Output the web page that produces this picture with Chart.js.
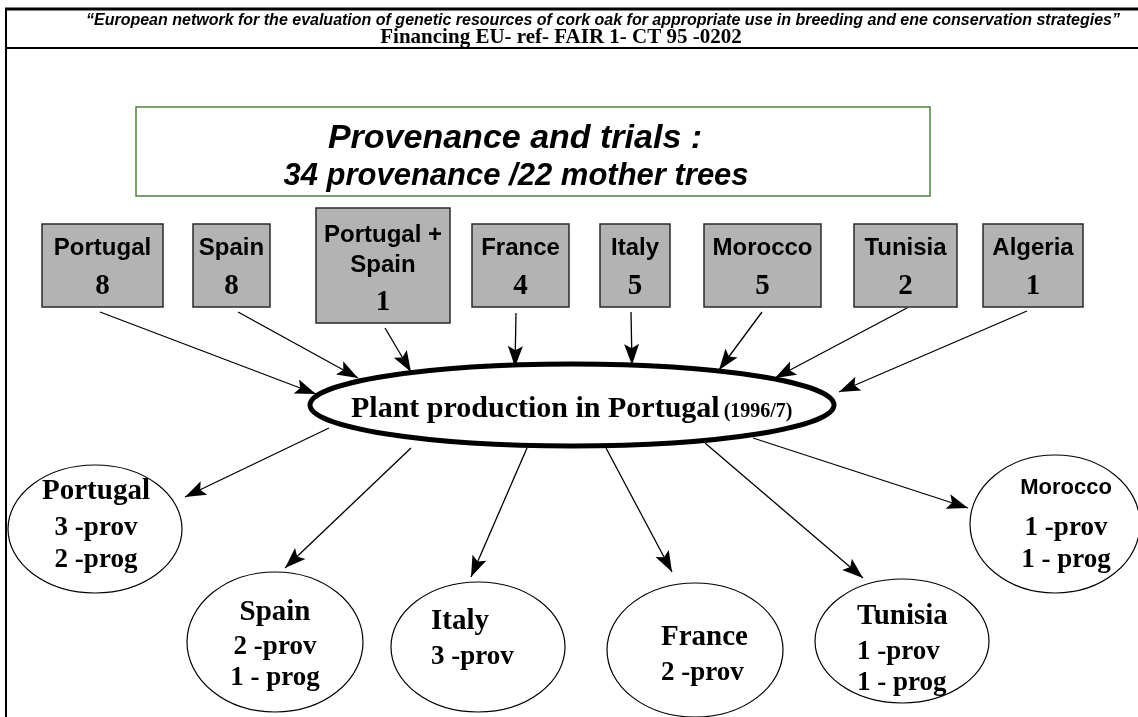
<!DOCTYPE html>
<html>
<head>
<meta charset="utf-8">
<script src="https://cdn.jsdelivr.net/npm/chart.js@4.4.1/dist/chart.umd.min.js"></script>
<style>
  body { margin: 0; background: #fff; }
  #wrap { width: 1138px; height: 717px; }
</style>
</head>
<body>
<div id="wrap"><canvas id="myChart" width="1138" height="717"></canvas></div>
<script>
// ---- data ----
const headerTitle = '\u201cEuropean network for the evaluation of genetic resources of cork oak for appropriate use in breeding and ene conservation strategies\u201d';
const headerSub = 'Financing EU- ref- FAIR 1- CT 95 -0202';
const trialTitle = 'Provenance and trials :';
const trialSub = '34 provenance /22 mother trees';

const sourceNames = [['Portugal'], ['Spain'], ['Portugal +', 'Spain'], ['France'], ['Italy'], ['Morocco'], ['Tunisia'], ['Algeria']];
const sourceCounts = [8, 8, 1, 4, 5, 5, 2, 1];

const hubLabel = 'Plant production in Portugal';
const hubYears = '(1996/7)';

const siteNames = ['Portugal', 'Spain', 'Italy', 'France', 'Tunisia', 'Morocco'];
const siteProv = [3, 2, 3, 2, 1, 1];
const siteProg = [2, 1, null, null, 1, 1];

// ---- layout (chart units = pixels of the 1138x717 frame) ----
const boxRects = [[42,224,163,307],[193,224,270,307],[316,208,450,323],[472,224,569,307],
                  [600,224,670,307],[704,224,821,307],[854,224,957,307],[983,224,1083,307]];
const boxTextY = [[248,287],[248,287],[235,265,303],[248,287],[248,287],[248,287],[248,287],[248,287]];
const inArrows = [[100,312,316,394],[238,312,358,378],[385,328,411,372],[516,313,515,367],
                  [631,312,632,365],[762,312,719,370],[907,308,775,378],[1027,311,839,392]];
const hub = [572, 405, 262, 41];
const siteEllipses = [[95,529,87,64],[275,642,88,70],[478,647,87,65],[695,650,88,67],[902,641,87,62],[1055,524,85,69]];
const siteTextX = [96, 275, 431, 661, 857, 1066];
const siteAlign = ['center','center','left','left','left','center'];
const siteTextY = [[492,528,560],[613,647,678],[622,657],[638,673],[617,652,683],[488,528,560]];
const outArrows = [[329,428,185,497],[411,448,285,568],[527,448,471,577],[606,448,672,572],[705,443,863,578],[753,438,968,508]];

const SANS = '"Liberation Sans", Arial, sans-serif';
const SERIF = '"Liberation Serif", "Times New Roman", serif';

const arrowSets = inArrows.concat(outArrows).map(a => ({
    data: [{x: a[0], y: a[1]}, {x: a[2], y: a[3]}],
    showLine: true,
    borderColor: '#000',
    borderWidth: 1.3,
    pointRadius: 0
}));

function arrowHead(ctx, x1, y1, x2, y2) {
    const ang = Math.atan2(y2 - y1, x2 - x1);
    const len = 21, half = 7.5;
    ctx.beginPath();
    ctx.moveTo(x2, y2);
    ctx.lineTo(x2 - len * Math.cos(ang) + half * Math.sin(ang), y2 - len * Math.sin(ang) - half * Math.cos(ang));
    ctx.lineTo(x2 - len * Math.cos(ang) * 0.8, y2 - len * Math.sin(ang) * 0.8);
    ctx.lineTo(x2 - len * Math.cos(ang) - half * Math.sin(ang), y2 - len * Math.sin(ang) + half * Math.cos(ang));
    ctx.closePath();
    ctx.fill();
}

const diagram = {
    id: 'diagram',
    beforeDatasetsDraw(chart) {
        const ctx = chart.ctx, sx = chart.scales.x, sy = chart.scales.y;
        const px = v => sx.getPixelForValue(v), py = v => sy.getPixelForValue(v);
        ctx.save();
        ctx.fillStyle = '#fff';
        ctx.fillRect(0, 0, chart.width, chart.height);

        // header frame
        ctx.strokeStyle = '#000';
        ctx.lineWidth = 3;
        ctx.beginPath(); ctx.moveTo(px(5), py(9)); ctx.lineTo(px(1138), py(9)); ctx.stroke();
        ctx.lineWidth = 2;
        ctx.beginPath(); ctx.moveTo(px(6), py(8)); ctx.lineTo(px(6), py(717)); ctx.stroke();
        ctx.beginPath(); ctx.moveTo(px(6), py(48)); ctx.lineTo(px(1138), py(48)); ctx.stroke();

        ctx.fillStyle = '#000';
        ctx.textAlign = 'center';
        ctx.textBaseline = 'middle';
        ctx.font = 'italic bold 16px ' + SANS;
        ctx.fillText(headerTitle, px(603), py(21));
        ctx.font = 'bold 21px ' + SERIF;
        ctx.fillText(headerSub, px(561), py(38));

        // trials box
        ctx.strokeStyle = '#4f7f3f';
        ctx.lineWidth = 1.5;
        ctx.strokeRect(px(136), py(107), px(930) - px(136), py(196) - py(107));
        ctx.fillStyle = '#000';
        ctx.font = 'italic bold 34px ' + SANS;
        ctx.fillText(trialTitle, px(515), py(139));
        ctx.font = 'italic bold 31px ' + SANS;
        ctx.fillText(trialSub, px(516), py(176));

        // source boxes
        boxRects.forEach((r, i) => {
            ctx.fillStyle = '#b3b3b3';
            ctx.fillRect(px(r[0]), py(r[1]), px(r[2]) - px(r[0]), py(r[3]) - py(r[1]));
            ctx.strokeStyle = '#2a2a2a';
            ctx.lineWidth = 1.5;
            ctx.strokeRect(px(r[0]), py(r[1]), px(r[2]) - px(r[0]), py(r[3]) - py(r[1]));
            const cx = px((r[0] + r[2]) / 2);
            ctx.fillStyle = '#000';
            ctx.font = 'bold 24px ' + SANS;
            sourceNames[i].forEach((t, j) => ctx.fillText(t, cx, py(boxTextY[i][j])));
            ctx.font = 'bold 29px ' + SERIF;
            ctx.fillText(String(sourceCounts[i]), cx, py(boxTextY[i][sourceNames[i].length]));
        });

        // site ellipses
        siteEllipses.forEach(e => {
            ctx.beginPath();
            ctx.ellipse(px(e[0]), py(e[1]), px(e[0] + e[2]) - px(e[0]), py(e[1] + e[3]) - py(e[1]), 0, 0, Math.PI * 2);
            ctx.fillStyle = '#fff';
            ctx.fill();
            ctx.strokeStyle = '#000';
            ctx.lineWidth = 1.2;
            ctx.stroke();
        });

        // hub ellipse
        ctx.beginPath();
        ctx.ellipse(px(hub[0]), py(hub[1]), px(hub[0] + hub[2]) - px(hub[0]), py(hub[1] + hub[3]) - py(hub[1]), 0, 0, Math.PI * 2);
        ctx.fillStyle = '#fff';
        ctx.fill();
        ctx.strokeStyle = '#000';
        ctx.lineWidth = 5;
        ctx.stroke();
        ctx.restore();
    },
    afterDatasetsDraw(chart) {
        const ctx = chart.ctx, sx = chart.scales.x, sy = chart.scales.y;
        const px = v => sx.getPixelForValue(v), py = v => sy.getPixelForValue(v);
        ctx.save();
        ctx.fillStyle = '#000';
        inArrows.concat(outArrows).forEach(a => arrowHead(ctx, px(a[0]), py(a[1]), px(a[2]), py(a[3])));

        // hub text
        ctx.textBaseline = 'alphabetic';
        ctx.textAlign = 'left';
        ctx.font = 'bold 30px ' + SERIF;
        ctx.fillText(hubLabel, px(351), py(417));
        const w = ctx.measureText(hubLabel).width;
        ctx.font = 'bold 20px ' + SERIF;
        ctx.fillText(hubYears, px(351) + w + 4, py(417));

        // site text
        ctx.textBaseline = 'middle';
        siteNames.forEach((name, i) => {
            ctx.textAlign = siteAlign[i];
            const lines = [name, siteProv[i] + ' -prov'];
            if (siteProg[i] !== null) lines.push(siteProg[i] + (i === 0 ? ' -prog' : ' - prog'));
            lines.forEach((t, j) => {
                if (j === 0) ctx.font = name === 'Morocco' ? 'bold 22px ' + SANS : 'bold 29px ' + SERIF;
                else ctx.font = 'bold 27px ' + SERIF;
                ctx.fillText(t, px(siteTextX[i]), py(siteTextY[i][j]));
            });
        });
        ctx.restore();
    }
};

const myChart = new Chart(document.getElementById('myChart'), {
    type: 'scatter',
    data: { datasets: arrowSets },
    options: {
        responsive: false,
        animation: false,
        events: [],
        layout: { padding: 0 },
        plugins: { legend: { display: false }, tooltip: { enabled: false } },
        scales: {
            x: { type: 'linear', min: 0, max: 1138, display: false },
            y: { type: 'linear', min: 0, max: 717, reverse: true, display: false }
        }
    },
    plugins: [diagram]
});
</script>
</body>
</html>
